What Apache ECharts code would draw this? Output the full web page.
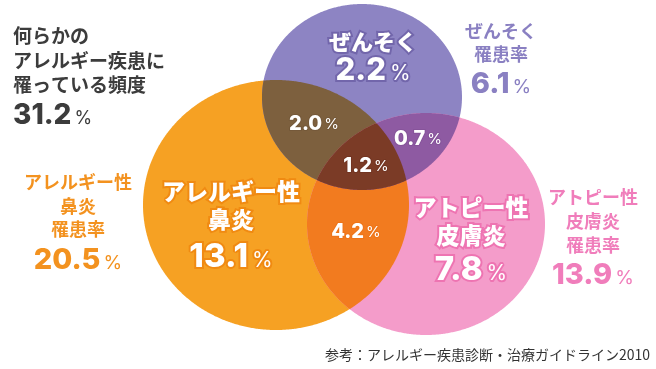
<!DOCTYPE html>
<html><head><meta charset="utf-8">
<script src="https://cdn.jsdelivr.net/npm/echarts@6/dist/echarts.min.js"></script>
<style>html,body{margin:0;padding:0;background:#fff}#c{width:656px;height:369px}</style>
</head><body><div id="c"></div>
<script>
// ---- data ----
const setNames = ['アレルギー性鼻炎', 'ぜんそく', 'アトピー性皮膚炎'];
const setNameLines = [['アレルギー性', '鼻炎'], ['ぜんそく'], ['アトピー性', '皮膚炎']];
const totalRates = [20.5, 6.1, 13.9];      // 罹患率
const onlyRates = [13.1, 2.2, 7.8];        // single-disease only
const pairSets = [[0, 1], [0, 2], [1, 2]];
const pairRates = [2.0, 4.2, 0.7];
const tripleRate = 1.2;
const anyRate = 31.2;
const headLines = ['何らかの', 'アレルギー疾患に', '罹っている頻度'];
const rateWord = '罹患率';
const sourceNote = '参考：アレルギー疾患診断・治療ガイドライン2010';

// ---- layout / style ----
const circles = [
  { cx: 276, cy: 205, rx: 133, ry: 125 },
  { cx: 362, cy: 97, rx: 100, ry: 93 },
  { cx: 426, cy: 224, rx: 119, ry: 111 }
];
const regions = [[0], [1], [2], [0, 1], [0, 2], [1, 2], [0, 1, 2]];
const regionColors = ['#f6a123', '#8d84c3', '#f49cca', '#7d603e', '#f27b1f', '#8e5aa2', '#7b3b26'];
const extColors = ['#f3921f', '#8a80c2', '#f07dbb'];
const haloColors = ['#f08a12', '#7266ab', '#ee74b2'];
const JP = "'Noto Sans CJK JP','Noto Sans',sans-serif";
const NUM = "Inter,'Noto Sans',sans-serif";

function inside(p, c) {
  const dx = (p[0] - c.cx) / c.rx, dy = (p[1] - c.cy) / c.ry;
  return dx * dx + dy * dy <= 1 + 1e-9;
}
function regionPolygon(members) {
  const N = 720, pts = [];
  members.forEach(i => {
    const c = circles[i];
    for (let k = 0; k < N; k++) {
      const t = 2 * Math.PI * k / N;
      const p = [c.cx + c.rx * Math.cos(t), c.cy + c.ry * Math.sin(t)];
      if (members.every(j => j === i || inside(p, circles[j]))) pts.push(p);
    }
  });
  let mx = 0, my = 0;
  pts.forEach(p => { mx += p[0]; my += p[1]; });
  mx /= pts.length; my /= pts.length;
  pts.sort((a, b) => Math.atan2(a[1] - my, a[0] - mx) - Math.atan2(b[1] - my, b[0] - mx));
  return pts;
}

const fmt = v => v.toFixed(1);
function numText(x, y, v, size, pctSize, color, stroke, lw, gap) {
  const base = { fill: color, verticalAlign: 'bottom' };
  if (stroke) { base.stroke = stroke; base.lineWidth = lw; }
  return {
    type: 'text', silent: true, z: 100,
    style: {
      x, y, text: '{n|' + fmt(v) + '}{p|%}', align: 'center', verticalAlign: 'middle',
      rich: {
        n: Object.assign({ font: '800 ' + size + 'px ' + NUM }, base),
        p: Object.assign({ font: '400 ' + pctSize + 'px ' + NUM, padding: [0, 0, 2, gap == null ? 3 : gap] }, base)
      }
    }
  };
}
function jpText(x, y, text, size, color, align, stroke, lw, weight) {
  const st = { x, y, text, font: (weight || 700) + ' ' + size + 'px ' + JP, fill: color, align: align || 'center', verticalAlign: 'middle' };
  if (stroke) { st.stroke = stroke; st.lineWidth = lw; }
  return { type: 'text', silent: true, z: 100, style: st };
}

const g = [];
// header block
headLines.forEach((t, i) => g.push(jpText(13, [36, 61, 85][i], t, 19, '#3c3c3c', 'left', null, 0, 700)));
(function () {
  const el = numText(0, 116, anyRate, 28, 18, '#3c3c3c', null, 0, 3);
  el.style.x = 13; el.style.align = 'left';
  g.push(el);
})();
// external labels
const extPos = [
  { x: 78, ys: [182, 206], rateY: 229, numY: 260 },
  { x: 501, ys: [31], rateY: 54, numY: 84 },
  { x: 593, ys: [197, 221], rateY: 245, numY: 275 }
];
setNameLines.forEach((lines, i) => {
  const p = extPos[i];
  lines.forEach((t, k) => g.push(jpText(p.x, p.ys[k], t, 18, extColors[i], 'center', null, 0, 700)));
  g.push(jpText(p.x, p.rateY, rateWord, 18, extColors[i], 'center', null, 0, 700));
  g.push(numText(p.x, p.numY, totalRates[i], 29, 19, extColors[i], null, 0, 3));
});
// inner labels
const innerPos = [
  { x: 231, ys: [191, 219], numY: 257, size: 23, nsize: 33 },
  { x: 373, ys: [42], numY: 71, size: 22, nsize: 31 },
  { x: 471, ys: [207, 235], numY: 270, size: 23, nsize: 33 }
];
setNameLines.forEach((lines, i) => {
  const p = innerPos[i];
  lines.forEach((t, k) => g.push(jpText(p.x, p.ys[k], t, p.size, '#ffffff', 'center', haloColors[i], 4, 900)));
  g.push(numText(p.x, p.numY, onlyRates[i], p.nsize, 21, '#ffffff', haloColors[i], 4, 4));
});
// overlap labels
const pairPos = [[314, 124], [356, 232], [418, 139]];
const pairHalo = ['#75593a', '#ee7418', '#86539a'];
pairRates.forEach((v, i) => g.push(numText(pairPos[i][0], pairPos[i][1], v, 20, 15, '#ffffff', pairHalo[i], 2, 2)));
g.push(numText(366, 166, tripleRate, 20, 15, '#ffffff', '#733522', 2, 2));
// source
g.push(jpText(325, 355, sourceNote, 14, '#333333', 'left', null, 0, 400));

const chart = echarts.init(document.getElementById('c'), null, { renderer: 'canvas' });
chart.setOption({
  animation: false,
  backgroundColor: '#ffffff',
  grid: { left: 0, right: 0, top: 0, bottom: 0 },
  xAxis: { type: 'value', min: 0, max: 656, show: false },
  yAxis: { type: 'value', min: 0, max: 369, inverse: true, show: false },
  series: [{
    type: 'custom', coordinateSystem: 'cartesian2d', clip: false, silent: true, z: 1,
    data: regions.map((r, i) => [i, 0]),
    renderItem: function (params, api) {
      const pts = regionPolygon(regions[params.dataIndex]).map(p => api.coord(p));
      return { type: 'polygon', shape: { points: pts }, style: { fill: regionColors[params.dataIndex] } };
    }
  }],
  graphic: { elements: g }
});
</script></body></html>
